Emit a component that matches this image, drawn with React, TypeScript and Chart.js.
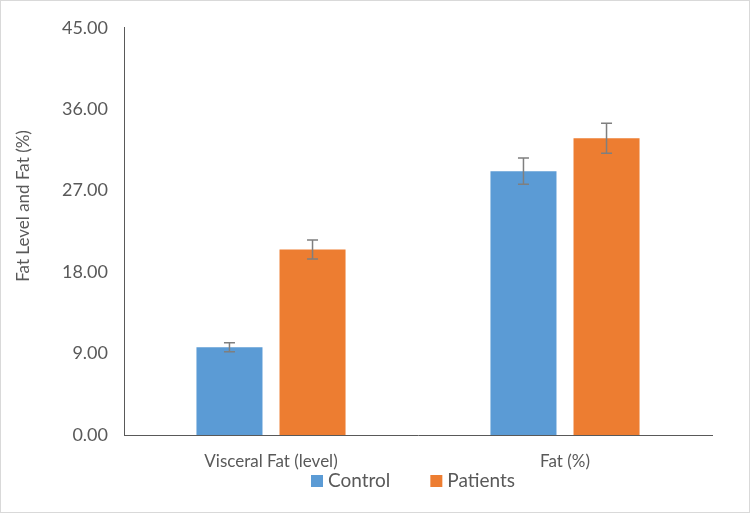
import React, { useEffect, useRef } from "react";
import { Chart, registerables } from "chart.js";

Chart.register(...registerables);

const categories = ["Visceral Fat (level)", "Fat (%)"];
const seriesNames = ["Control", "Patients"];
const controlValues = [9.7, 29.15];
const controlErrors = [0.5, 1.45];
const patientValues = [20.5, 32.8];
const patientErrors = [1.05, 1.65];
const yTicks = [0, 9, 18, 27, 36, 45];
const yTitle = "Fat Level and Fat (%)";

const FONT = "Lato, 'Open Sans', sans-serif";
const GREY = "#595959";
const COLORS = ["#5B9BD5", "#ED7D31"];

const errorBarPlugin = {
  id: "errorBars",
  afterDatasetsDraw(chart: any) {
    const ctx = chart.ctx;
    const yScale = chart.scales.y;
    chart.data.datasets.forEach((ds: any, di: number) => {
      const meta = chart.getDatasetMeta(di);
      const errs: number[] = ds.errors || [];
      meta.data.forEach((bar: any, i: number) => {
        const v = ds.data[i];
        const e = errs[i];
        if (e == null) return;
        const yt = yScale.getPixelForValue(v + e);
        const yb = yScale.getPixelForValue(v - e);
        const x = bar.x;
        ctx.save();
        ctx.strokeStyle = "#7f7f7f";
        ctx.lineWidth = 1.5;
        ctx.beginPath();
        ctx.moveTo(x, yt);
        ctx.lineTo(x, yb);
        ctx.moveTo(x - 5.5, yt);
        ctx.lineTo(x + 5.5, yt);
        ctx.moveTo(x - 5.5, yb);
        ctx.lineTo(x + 5.5, yb);
        ctx.stroke();
        ctx.restore();
      });
    });
  },
};

const textPlugin = {
  id: "extraText",
  afterDraw(chart: any) {
    const ctx = chart.ctx;
    // y axis title
    ctx.save();
    ctx.translate(23, 205);
    ctx.rotate(-Math.PI / 2);
    ctx.font = `17px ${FONT}`;
    ctx.fillStyle = GREY;
    ctx.textAlign = "center";
    ctx.textBaseline = "middle";
    ctx.fillText(yTitle, 0, 0);
    ctx.restore();
    // legend
    ctx.save();
    ctx.font = `19px ${FONT}`;
    ctx.textBaseline = "middle";
    ctx.textAlign = "left";
    let x = 310;
    const y = 480;
    chart.data.datasets.forEach((ds: any) => {
      ctx.fillStyle = ds.backgroundColor;
      ctx.fillRect(x, y - 6, 12, 12);
      ctx.fillStyle = GREY;
      ctx.fillText(ds.label, x + 17, y);
      x += 17 + ctx.measureText(ds.label).width + 40;
    });
    ctx.restore();
  },
};

export default function App() {
  const ref = useRef<HTMLCanvasElement>(null);
  useEffect(() => {
    if (!ref.current) return;
    const chart = new Chart(ref.current, {
      type: "bar",
      data: {
        labels: categories,
        datasets: [
          {
            label: seriesNames[0],
            data: controlValues,
            errors: controlErrors,
            backgroundColor: COLORS[0],
            categoryPercentage: 0.565,
            barPercentage: 0.795,
          } as any,
          {
            label: seriesNames[1],
            data: patientValues,
            errors: patientErrors,
            backgroundColor: COLORS[1],
            categoryPercentage: 0.565,
            barPercentage: 0.795,
          } as any,
        ],
      },
      options: {
        animation: false,
        responsive: false,
        layout: { padding: { top: 26, right: 37, left: 0, bottom: 37 } },
        plugins: {
          legend: { display: false },
          tooltip: { enabled: false },
        },
        scales: {
          x: {
            grid: { display: false, drawTicks: false },
            border: { color: GREY, width: 1 },
            ticks: { color: GREY, font: { family: FONT, size: 17 }, padding: 16 },
            afterFit(scale: any) {
              scale.height = 40;
            },
          },
          y: {
            min: 0,
            max: 45,
            afterBuildTicks(scale: any) {
              scale.ticks = yTicks.map((v) => ({ value: v }));
            },
            grid: { display: false, drawTicks: false },
            border: { color: GREY, width: 1 },
            ticks: {
              color: GREY,
              font: { family: FONT, size: 18 },
              padding: 16,
              callback: (v: any) => Number(v).toFixed(2),
            },
            afterFit(scale: any) {
              scale.width = 123;
            },
          },
        },
      },
      plugins: [errorBarPlugin, textPlugin],
    });
    return () => chart.destroy();
  }, []);
  return (
    <div
      style={{
        position: "fixed",
        left: 0,
        top: 0,
        width: 750,
        height: 513,
        background: "#fff",
        boxSizing: "border-box",
        border: "1px solid #d9d9d9",
      }}
    >
      <canvas ref={ref} width={748} height={511} style={{ display: "block" }} />
    </div>
  );
}
